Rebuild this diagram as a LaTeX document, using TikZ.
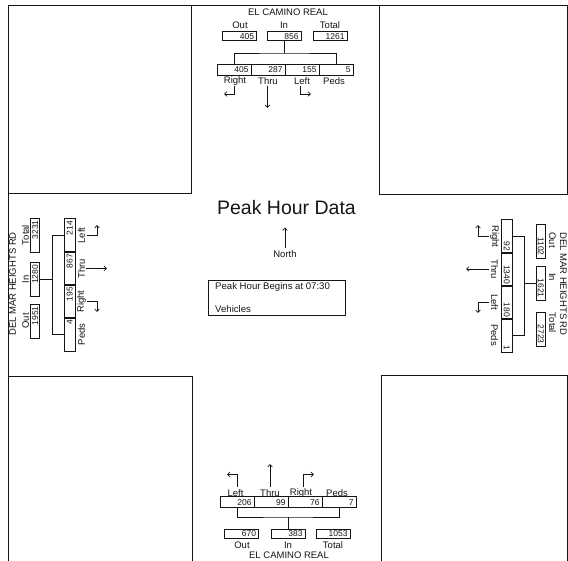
\documentclass[tikz,border=0pt]{standalone}
\usepackage{fontspec}
\setmainfont{Liberation Sans}
\usetikzlibrary{arrows.meta}
\definecolor{tcink}{HTML}{151515}

\begin{document}
\begin{tikzpicture}[x=1pt,y=-1pt,
  lbl/.style={font=\fontsize{9.5}{10}\selectfont,inner sep=0pt,text=tcink},
  infotxt/.style={font=\fontsize{9.6}{10}\selectfont,inner sep=0pt,text=tcink},
  valbox/.style={draw=tcink,line width=0.8pt,text width=29pt,minimum height=9pt,inner xsep=2.5pt,inner ysep=0pt,
    align=right,font=\fontsize{8.5}{9}\selectfont,text height=6.2pt,text depth=0pt,text=tcink},
  mvbox/.style={valbox,minimum height=11pt},
  link/.style={draw=tcink,line width=0.8pt},
  mvarrow/.style={draw=tcink,line width=0.7pt,-{Straight Barb[length=2.5pt,width=4.5pt]}},
  frame/.style={draw=tcink,line width=0.9pt}]

  \useasboundingbox (0,0) rectangle (568,561);
  \clip (0,0) rectangle (568,561);

  \draw[frame] (8.5,5) -- (567,5);
  \draw[frame] (8.5,5) -- (8.5,561);
  \draw[frame] (191,5) -- (191,193.3) -- (8.5,193.3);
  \draw[frame] (379.3,5) -- (379.3,194.6) -- (567,194.6) -- (567,5);
  \draw[frame] (8.5,376) -- (192.7,376) -- (192.7,561);
  \draw[frame] (381.5,561) -- (381.5,375.7) -- (567,375.7) -- (567,561);

  \node[lbl] (nTitle) at (288,12.5) {EL CAMINO REAL};
  \node[lbl] (nOutLbl) at (240,25.5) {Out};
  \node[lbl] (nInLbl) at (284,25.5) {In};
  \node[lbl] (nTotLbl) at (330,25.5) {Total};
  \node[valbox] (nOut) at (239.5,36.2) {405};
  \node[valbox] (nIn) at (284,36.2) {856};
  \node[valbox] (nTot) at (330,36.2) {1261};
  \node[mvbox] (nR) at (234,69.5) {405};
  \node[mvbox] (nT) at (268,69.5) {287};
  \node[mvbox] (nL) at (302,69.5) {155};
  \node[mvbox] (nP) at (336,69.5) {5};
  \coordinate (nJoin) at (284,53);
  \draw[link] (nIn) -- (nJoin);
  \draw[link] (nR.north) |- (nJoin) -| (nP.north);
  \node[lbl] (nRLbl) at (235,81.5) {Right};
  \node[lbl] (nTLbl) at (268,81.5) {Thru};
  \node[lbl] (nLLbl) at (302,81.5) {Left};
  \node[lbl] (nPLbl) at (334,81.5) {Peds};
  \draw[mvarrow] (234,86) -- (234,94) -- (224,94);
  \draw[mvarrow] (267.5,86) -- (267.5,108);
  \draw[mvarrow] (300.5,86) -- (300.5,94) -- (311,94);

  \draw[mvarrow] (237,487) -- (237,474.5) -- (227,474.5);
  \draw[mvarrow] (270,487) -- (270,464);
  \draw[mvarrow] (303.5,487) -- (303.5,474.5) -- (314,474.5);
  \node[lbl] (sLLbl) at (235.5,493.5) {Left};
  \node[lbl] (sTLbl) at (270,493.5) {Thru};
  \node[lbl] (sRLbl) at (301,493.5) {Right};
  \node[lbl] (sPLbl) at (337,493.5) {Peds};
  \node[mvbox] (sL) at (237,502) {206};
  \node[mvbox] (sT) at (271,502) {99};
  \node[mvbox] (sR) at (305,502) {76};
  \node[mvbox] (sP) at (339,502) {7};
  \coordinate (sJoin) at (288,517);
  \node[valbox] (sOut) at (241.5,533.5) {670};
  \node[valbox] (sIn) at (288,533.5) {383};
  \node[valbox] (sTot) at (333,533.5) {1053};
  \draw[link] (sIn) -- (sJoin);
  \draw[link] (sL.south) |- (sJoin) -| (sP.south);
  \node[lbl] (sOutLbl) at (242,545) {Out};
  \node[lbl] (sInLbl) at (288,545) {In};
  \node[lbl] (sTotLbl) at (333,545) {Total};
  \node[lbl] (sTitle) at (289,555) {EL CAMINO REAL};

  \node[lbl,rotate=90] (wTitle) at (12.7,284) {DEL MAR HEIGHTS RD};
  \node[lbl,rotate=90] (wTotLbl) at (25.5,235) {Total};
  \node[lbl,rotate=90] (wInLbl) at (25.5,279.5) {In};
  \node[lbl,rotate=90] (wOutLbl) at (25.5,321) {Out};
  \node[valbox,rotate=90] (wTot) at (35,235) {3231};
  \node[valbox,rotate=90] (wIn) at (35,279.5) {1280};
  \node[valbox,rotate=90] (wOut) at (35,321) {1951};
  \node[mvbox,rotate=90] (wL) at (69.5,235.5) {214};
  \node[mvbox,rotate=90] (wT) at (69.5,268.5) {867};
  \node[mvbox,rotate=90] (wR) at (69.5,301.5) {195};
  \node[mvbox,rotate=90] (wP) at (69.5,334.5) {4};
  \coordinate (wJoin) at (52.5,279.5);
  \draw[link] (wIn) -- (wJoin);
  \draw[link] (wL.north) -| (wJoin) |- (wP.north);
  \node[lbl,rotate=90] (wLLbl) at (81.5,235.5) {Left};
  \node[lbl,rotate=90] (wTLbl) at (81.5,268.5) {Thru};
  \node[lbl,rotate=90] (wRLbl) at (81.5,301.5) {Right};
  \node[lbl,rotate=90] (wPLbl) at (81.5,334.5) {Peds};
  \draw[mvarrow] (87,235.5) -- (97,235.5) -- (97,225);
  \draw[mvarrow] (86,268.5) -- (107,268.5);
  \draw[mvarrow] (87,301.5) -- (97,301.5) -- (97,312);

  \node[lbl,rotate=-90] (eTitle) at (563.5,284) {DEL MAR HEIGHTS RD};
  \node[lbl,rotate=-90] (eOutLbl) at (552.5,240) {Out};
  \node[lbl,rotate=-90] (eInLbl) at (552.5,277) {In};
  \node[lbl,rotate=-90] (eTotLbl) at (552.5,323) {Total};
  \node[valbox,rotate=-90] (eOut) at (541,241) {1102};
  \node[valbox,rotate=-90] (eIn) at (541,283) {1621};
  \node[valbox,rotate=-90] (eTot) at (541,329) {2723};
  \node[mvbox,rotate=-90] (eR) at (507,236.5) {92};
  \node[mvbox,rotate=-90] (eT) at (507,269.5) {1340};
  \node[mvbox,rotate=-90] (eL) at (507,302.5) {180};
  \node[mvbox,rotate=-90] (eP) at (507,335.5) {1};
  \coordinate (eJoin) at (524.5,283);
  \draw[link] (eIn) -- (eJoin);
  \draw[link] (eR.north) -| (eJoin) |- (eP.north);
  \node[lbl,rotate=-90] (eRLbl) at (494.5,236.5) {Right};
  \node[lbl,rotate=-90] (eTLbl) at (494.5,269) {Thru};
  \node[lbl,rotate=-90] (eLLbl) at (494.5,302) {Left};
  \node[lbl,rotate=-90] (ePLbl) at (494.5,335) {Peds};
  \draw[mvarrow] (489,236.5) -- (478,236.5) -- (478,225);
  \draw[mvarrow] (489,269) -- (466,269);
  \draw[mvarrow] (489,302.5) -- (478,302.5) -- (478,313);

  \node[font=\fontsize{19.5}{20}\selectfont,inner sep=0pt,text=tcink] (dataTitle) at (286.5,208) {Peak Hour Data};
  \node[lbl] (northLbl) at (285,254.5) {North};
  \coordinate (northTip) at (285,227.5);
  \draw[mvarrow] ([yshift=3pt]northLbl.north) -- (northTip);
  \node[draw=tcink,line width=0.8pt,minimum width=137pt,minimum height=35pt,anchor=north west,inner sep=0pt] (beginBox) at (208,280) {};
  \node[infotxt,anchor=west] (beginTxt) at (215,287) {Peak Hour Begins at 07:30};
  \node[infotxt,anchor=west] (vehTxt) at (215,309.5) {Vehicles};
\end{tikzpicture}
\end{document}
